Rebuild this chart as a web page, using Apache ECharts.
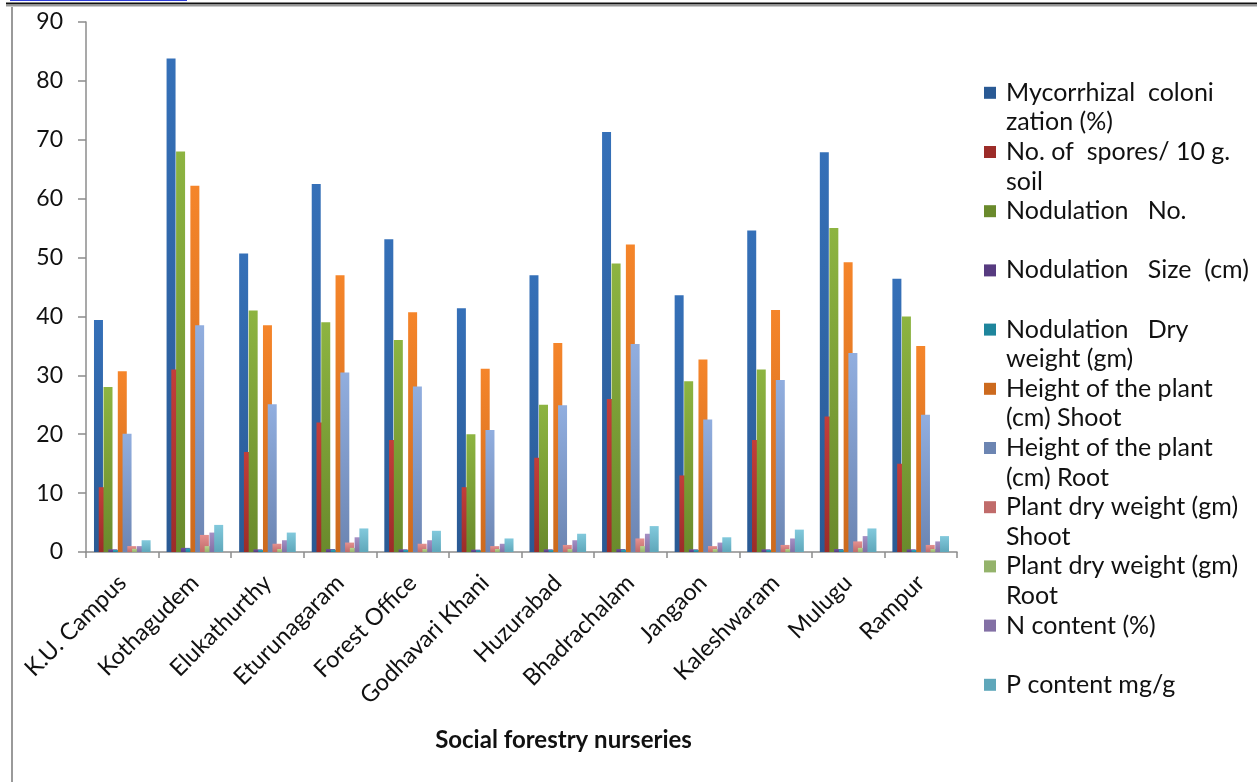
<!DOCTYPE html>
<html>
<head>
<meta charset="utf-8">
<script src="https://cdn.jsdelivr.net/npm/echarts@6/dist/echarts.min.js"></script>
<style>
html,body{margin:0;padding:0;background:#fff;}
#chart{width:1257px;height:782px;}
</style>
</head>
<body>
<div id="chart"></div>
<script>
const categories = ['K.U. Campus','Kothagudem','Elukathurthy','Eturunagaram','Forest Office','Godhavari Khani','Huzurabad','Bhadrachalam','Jangaon','Kaleshwaram','Mulugu','Rampur'];

const seriesNames = [
  'Mycorrhizal colonization (%)',
  'No. of spores/ 10 g. soil',
  'Nodulation No.',
  'Nodulation Size (cm)',
  'Nodulation Dry weight (gm)',
  'Height of the plant (cm) Shoot',
  'Height of the plant (cm) Root',
  'Plant dry weight (gm) Shoot',
  'Plant dry weight (gm) Root',
  'N content (%)',
  'P content mg/g'
];
const legendLines = [
  ['Mycorrhizal  coloni','zation (%)'],
  ['No. of  spores/ 10 g.','soil'],
  ['Nodulation   No.',''],
  ['Nodulation   Size  (cm)',''],
  ['Nodulation   Dry','weight (gm)'],
  ['Height of the plant','(cm) Shoot'],
  ['Height of the plant','(cm) Root'],
  ['Plant dry weight (gm)','Shoot'],
  ['Plant dry weight (gm)','Root'],
  ['N content (%)',''],
  ['P content mg/g','']
];

const mycorrhizal   = [39.4, 83.8, 50.7, 62.5, 53.1, 41.4, 47.0, 71.3, 43.6, 54.6, 67.9, 46.4];
const spores        = [11, 31, 17, 22, 19, 11, 16, 26, 13, 19, 23, 15];
const nodNo         = [28, 68, 41, 39, 36, 20, 25, 49, 29, 31, 55, 40];
const nodSize       = [0.45, 0.7, 0.45, 0.5, 0.45, 0.4, 0.45, 0.5, 0.45, 0.45, 0.5, 0.45];
const nodDry        = [0.35, 0.6, 0.35, 0.4, 0.35, 0.3, 0.35, 0.4, 0.35, 0.35, 0.4, 0.35];
const heightShoot   = [30.7, 62.2, 38.5, 47.0, 40.7, 31.1, 35.5, 52.2, 32.7, 41.1, 49.2, 35.0];
const heightRoot    = [20.1, 38.5, 25.1, 30.5, 28.1, 20.7, 24.9, 35.3, 22.5, 29.2, 33.8, 23.3];
const dryShoot      = [1.0, 2.9, 1.4, 1.6, 1.4, 1.0, 1.2, 2.3, 1.0, 1.2, 1.8, 1.2];
const dryRoot       = [0.55, 1.0, 0.5, 0.7, 0.5, 0.5, 0.5, 1.0, 0.5, 0.5, 0.7, 0.5];
const nContent      = [1.0, 3.3, 2.0, 2.5, 2.0, 1.4, 2.0, 3.1, 1.6, 2.3, 2.7, 1.8];
const pContent      = [2.0, 4.6, 3.3, 4.0, 3.6, 2.3, 3.1, 4.4, 2.5, 3.8, 4.0, 2.7];

const yTicks = [0,10,20,30,40,50,60,70,80,90];

const allData = [mycorrhizal, spores, nodNo, nodSize, nodDry, heightShoot, heightRoot, dryShoot, dryRoot, nContent, pContent];
const colorsTop = ['#3570B8','#C33E3A','#8DB441','#70509E','#2EA6C2','#F5852A','#91AEDF','#E59190','#BBD68F','#A590C4','#82C9DC'];
const colorsBot = ['#2A5A94','#9C2C29','#6A8A2C','#573B80','#1F859C','#CC6A1E','#6C85B2','#C06B6A','#94B36B','#8370A5','#5FA7BA'];

const FONT = 'Lato, "Open Sans", sans-serif';
const TXT = '#111';

const rich = {};
colorsTop.forEach((c, i) => {
  rich['sq' + i] = {width: 12, height: 12, backgroundColor: colorsBot[i]};
});
rich.sp = {width: 22};
rich.gap = {width: 10};
rich.t = {fontSize: 25, fontFamily: FONT, color: TXT, lineHeight: 29.6};

const series = seriesNames.map((name, i) => ({
  name: name,
  type: 'bar',
  data: allData[i],
  barGap: '-47%',
  barCategoryGap: '22%',
  itemStyle: {
    color: new echarts.graphic.LinearGradient(0, 0, 0, 1, [
      {offset: 0, color: colorsTop[i]},
      {offset: 1, color: colorsBot[i]}
    ])
  }
}));

const chart = echarts.init(document.getElementById('chart'), null, {renderer: 'canvas'});
chart.setOption({
  animation: false,
  backgroundColor: '#fff',
  color: colorsBot,
  grid: {left: 86, right: 300, top: 22, bottom: 230, containLabel: false},
  legend: {
    orient: 'vertical',
    left: 974,
    top: 73,
    itemWidth: 0,
    itemHeight: 0,
    itemGap: 0,
    icon: 'rect',
    data: seriesNames,
    formatter: function (name) {
      const i = seriesNames.indexOf(name);
      const l = legendLines[i];
      let s = '{sq' + i + '|}{gap|}{t|' + l[0] + '}';
      if (i < seriesNames.length - 1) s += '\n{sp|}{t|' + (l[1] || ' ') + '}';
      return s;
    },
    textStyle: {rich: rich, fontSize: 25, fontFamily: FONT, lineHeight: 29.6, padding: 0}
  },
  xAxis: {
    type: 'category',
    data: categories,
    name: 'Social forestry nurseries',
    nameLocation: 'middle',
    nameGap: 176,
    nameTextStyle: {fontSize: 24, fontWeight: 'bold', fontFamily: FONT, color: TXT, padding: [0, 0, 0, 84]},
    axisLine: {lineStyle: {color: '#8c8c8c', width: 1.5}},
    axisTick: {show: true, alignWithLabel: false, length: 6, lineStyle: {color: '#8c8c8c', width: 1.5}},
    axisLabel: {rotate: 45, fontSize: 23.5, fontFamily: FONT, color: TXT, margin: 27, interval: 0}
  },
  yAxis: {
    type: 'value',
    min: 0,
    max: 90,
    interval: 10,
    axisLine: {show: true, lineStyle: {color: '#8c8c8c', width: 1.5}},
    axisTick: {show: true, length: 8, lineStyle: {color: '#8c8c8c', width: 1.5}},
    splitLine: {show: false},
    axisLabel: {
      fontSize: 23, fontFamily: FONT, color: TXT, margin: 23,
      formatter: function (v) { return yTicks.indexOf(v) >= 0 ? String(v) : ''; }
    }
  },
  graphic: [
    {type: 'line', shape: {x1: 6, y1: 3.5, x2: 1257, y2: 3.5}, style: {stroke: '#111', lineWidth: 2}, silent: true},
    {type: 'line', shape: {x1: 6, y1: 5.5, x2: 1257, y2: 5.5}, style: {stroke: '#999', lineWidth: 2}, silent: true},
    {type: 'line', shape: {x1: 12, y1: 7, x2: 12, y2: 782}, style: {stroke: '#9a9a9a', lineWidth: 2}, silent: true},
    {type: 'line', shape: {x1: 10, y1: 0.5, x2: 187, y2: 0.5}, style: {stroke: '#2b3bd8', lineWidth: 1}, silent: true}
  ],
  series: series
});
</script>
</body>
</html>
